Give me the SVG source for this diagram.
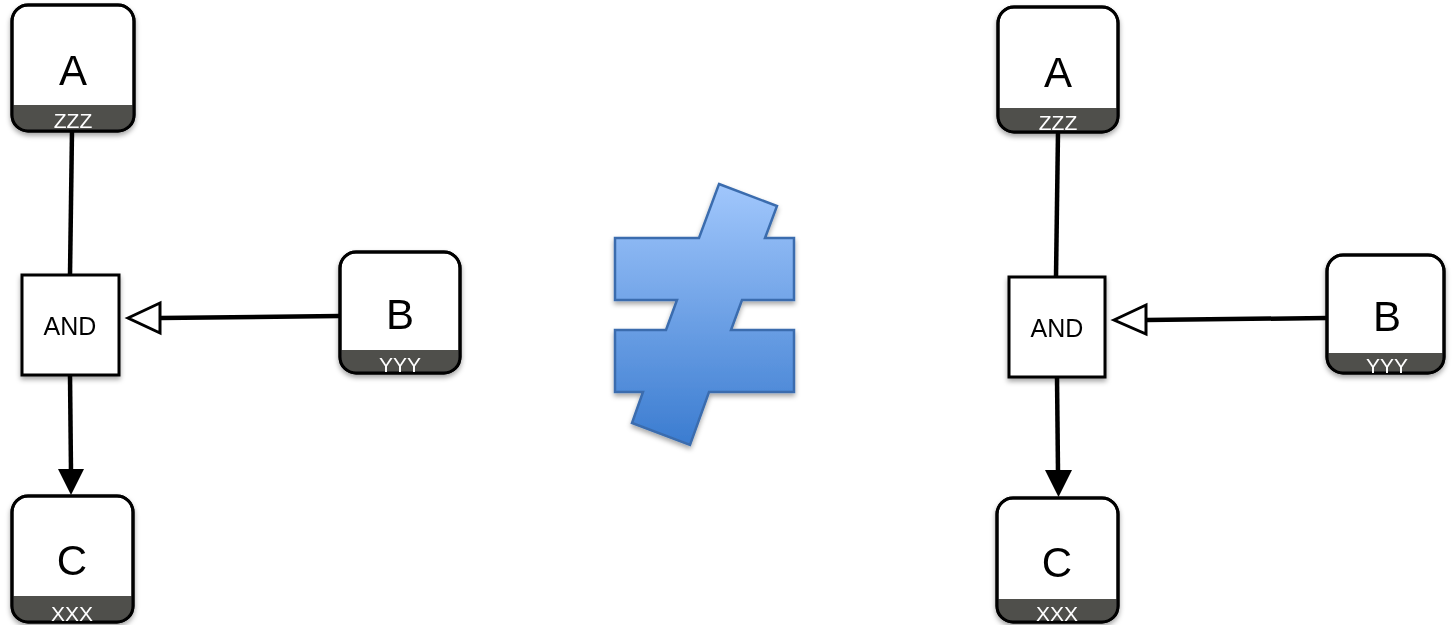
<svg xmlns="http://www.w3.org/2000/svg" width="1453" height="625" viewBox="0 0 1453 625">
<defs>
<style>
.box{fill:#fff;stroke:#000;stroke-width:3}
.band{fill:#4f4f4b}
.lbl{font-family:"Liberation Sans","DejaVu Sans",sans-serif;font-size:42px;fill:#000;text-anchor:middle}
.sub{font-family:"Liberation Sans","DejaVu Sans",sans-serif;font-size:21px;fill:#fff;text-anchor:middle}
.and{font-family:"Liberation Sans","DejaVu Sans",sans-serif;font-size:25px;fill:#000;text-anchor:middle}
.ln{stroke:#000;stroke-width:4.5;fill:none}
</style>
<filter id="sh" x="-20%" y="-20%" width="140%" height="150%">
<feDropShadow dx="0" dy="3" stdDeviation="2.5" flood-color="#000" flood-opacity="0.35"/>
</filter>
<linearGradient id="ne" x1="0" y1="0" x2="0" y2="1">
<stop offset="0" stop-color="#a1c7fc"/>
<stop offset="1" stop-color="#3b7cd0"/>
</linearGradient>
<clipPath id="cA1"><rect x="12" y="5" width="122" height="126" rx="16"/></clipPath>
<clipPath id="cB1"><rect x="340" y="252" width="120" height="121" rx="16"/></clipPath>
<clipPath id="cC1"><rect x="12" y="496" width="121" height="126" rx="16"/></clipPath>
<clipPath id="cA2"><rect x="998" y="7" width="120" height="125" rx="16"/></clipPath>
<clipPath id="cB2"><rect x="1327" y="255" width="117" height="118" rx="16"/></clipPath>
<clipPath id="cC2"><rect x="997" y="498" width="121" height="124" rx="16"/></clipPath>
</defs>

<g id="connectors">
<line class="ln" x1="72" y1="131" x2="70" y2="275"/>
<line class="ln" x1="70" y1="375" x2="71" y2="472"/>
<polygon points="58,469 84,469 71,495" fill="#000"/>
<line class="ln" x1="340" y1="316" x2="160" y2="318"/>
<polygon points="128,318 160,303 160,333" fill="#fff" stroke="#000" stroke-width="3" stroke-linejoin="miter"/>

<line class="ln" x1="1058" y1="132" x2="1056" y2="277"/>
<line class="ln" x1="1057" y1="377" x2="1058" y2="472"/>
<polygon points="1045,470 1072,470 1058.5,497" fill="#000"/>
<line class="ln" x1="1327" y1="318" x2="1146" y2="320"/>
<polygon points="1114,320 1146,305 1146,334" fill="#fff" stroke="#000" stroke-width="3"/>
</g>

<g id="nodeA1" filter="url(#sh)">
<rect class="box" x="12" y="5" width="122" height="126" rx="16"/>
<rect class="band" x="12" y="105" width="122" height="26" clip-path="url(#cA1)"/>
<rect x="12" y="5" width="122" height="126" rx="16" fill="none" stroke="#000" stroke-width="3"/>
<text class="lbl" x="73" y="85">A</text>
<text class="sub" x="73" y="128">ZZZ</text>
</g>

<g id="nodeAND1" filter="url(#sh)">
<rect x="22" y="275" width="97" height="100" fill="#fff" stroke="#000" stroke-width="3"/>
<text class="and" x="70" y="335">AND</text>
</g>

<g id="nodeB1" filter="url(#sh)">
<rect class="box" x="340" y="252" width="120" height="121" rx="16"/>
<rect class="band" x="340" y="350" width="120" height="23" clip-path="url(#cB1)"/>
<rect x="340" y="252" width="120" height="121" rx="16" fill="none" stroke="#000" stroke-width="3"/>
<text class="lbl" x="400" y="329">B</text>
<text class="sub" x="400" y="372">YYY</text>
</g>

<g id="nodeC1" filter="url(#sh)">
<rect class="box" x="12" y="496" width="121" height="126" rx="16"/>
<rect class="band" x="12" y="596" width="121" height="26" clip-path="url(#cC1)"/>
<rect x="12" y="496" width="121" height="126" rx="16" fill="none" stroke="#000" stroke-width="3"/>
<text class="lbl" x="72" y="575">C</text>
<text class="sub" x="72" y="621">XXX</text>
</g>

<g id="notEqual" filter="url(#sh)">
<polygon points="719,184 777,206 765,238 794,238 794,300 742,300 731,330 794,330 794,392 709,392 690,445 632,423 643,392 615,392 615,330 666,330 677,300 615,300 615,238 699,238" fill="url(#ne)" stroke="#3a6cae" stroke-width="2.5" stroke-linejoin="miter"/>
</g>

<g id="nodeA2" filter="url(#sh)">
<rect class="box" x="998" y="7" width="120" height="125" rx="16"/>
<rect class="band" x="998" y="108" width="120" height="24" clip-path="url(#cA2)"/>
<rect x="998" y="7" width="120" height="125" rx="16" fill="none" stroke="#000" stroke-width="3"/>
<text class="lbl" x="1058" y="87">A</text>
<text class="sub" x="1058" y="130">ZZZ</text>
</g>

<g id="nodeAND2" filter="url(#sh)">
<rect x="1009" y="277" width="96" height="100" fill="#fff" stroke="#000" stroke-width="3"/>
<text class="and" x="1057" y="337">AND</text>
</g>

<g id="nodeB2" filter="url(#sh)">
<rect class="box" x="1327" y="255" width="117" height="118" rx="16"/>
<rect class="band" x="1327" y="353" width="117" height="20" clip-path="url(#cB2)"/>
<rect x="1327" y="255" width="117" height="118" rx="16" fill="none" stroke="#000" stroke-width="3"/>
<text class="lbl" x="1387" y="331">B</text>
<text class="sub" x="1387" y="373">YYY</text>
</g>

<g id="nodeC2" filter="url(#sh)">
<rect class="box" x="997" y="498" width="121" height="124" rx="16"/>
<rect class="band" x="997" y="599" width="121" height="23" clip-path="url(#cC2)"/>
<rect x="997" y="498" width="121" height="124" rx="16" fill="none" stroke="#000" stroke-width="3"/>
<text class="lbl" x="1057" y="577">C</text>
<text class="sub" x="1057" y="621">XXX</text>
</g>
</svg>
